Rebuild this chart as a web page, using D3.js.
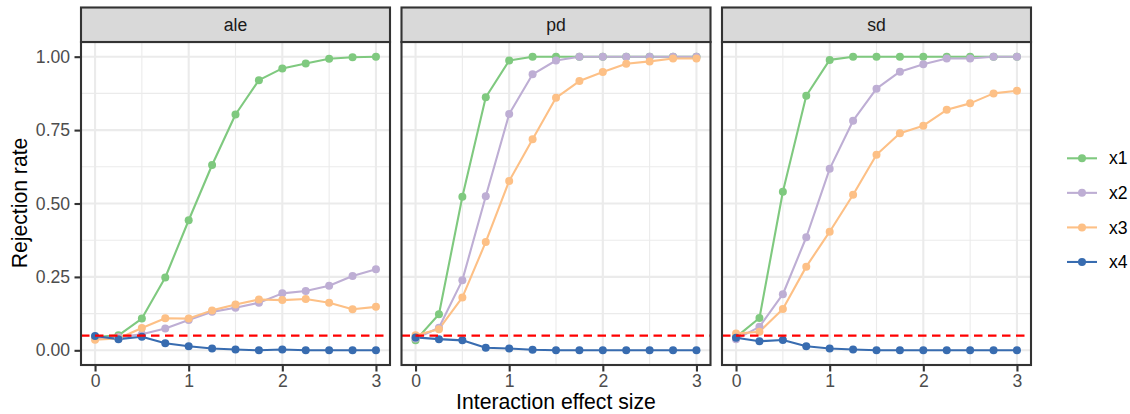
<!DOCTYPE html>
<html>
<head>
<meta charset="utf-8">
<script src="https://cdn.jsdelivr.net/npm/d3@7"></script>
<style>
  html, body { margin: 0; padding: 0; background: #ffffff; }
  svg { display: block; font-family: "Liberation Sans", Arial, sans-serif; }
</style>
</head>
<body>
<svg id="chart" width="1130" height="414"></svg>
<script>
// ---------------- data ----------------
const effectSize = [0, 0.25, 0.5, 0.75, 1, 1.25, 1.5, 1.75, 2, 2.25, 2.5, 2.75, 3];
const facets = ["ale", "pd", "sd"];
const seriesNames = ["x1", "x2", "x3", "x4"];
const seriesColors = ["#7FC97F", "#BEAED4", "#FDC086", "#386CB0"];
const xTicks = [0, 1, 2, 3];
const xTickLabels = ["0", "1", "2", "3"];
const yTicks = [0, 0.25, 0.5, 0.75, 1];
const yTickLabels = ["0.00", "0.25", "0.50", "0.75", "1.00"];
const alphaLevel = 0.05;

const ale_x1 = [0.045, 0.051, 0.108, 0.248, 0.443, 0.631, 0.803, 0.920, 0.960, 0.977, 0.993, 0.998, 1.000];
const ale_x2 = [0.040, 0.045, 0.055, 0.074, 0.103, 0.131, 0.145, 0.162, 0.194, 0.202, 0.220, 0.253, 0.276];
const ale_x3 = [0.036, 0.040, 0.076, 0.109, 0.108, 0.136, 0.156, 0.173, 0.171, 0.175, 0.162, 0.140, 0.148];
const ale_x4 = [0.049, 0.038, 0.046, 0.024, 0.014, 0.006, 0.003, 0.000, 0.003, 0.000, 0.000, 0.000, 0.000];

const pd_x1 = [0.034, 0.123, 0.523, 0.862, 0.987, 1.000, 1.000, 1.000, 1.000, 1.000, 1.000, 1.000, 1.000];
const pd_x2 = [0.040, 0.077, 0.239, 0.525, 0.805, 0.940, 0.987, 1.000, 1.000, 1.000, 1.000, 1.000, 1.000];
const pd_x3 = [0.051, 0.072, 0.180, 0.369, 0.577, 0.719, 0.860, 0.917, 0.948, 0.976, 0.984, 0.994, 0.994];
const pd_x4 = [0.044, 0.038, 0.034, 0.009, 0.006, 0.002, 0.000, 0.000, 0.000, 0.000, 0.000, 0.000, 0.000];

const sd_x1 = [0.045, 0.110, 0.540, 0.867, 0.989, 1.000, 1.000, 1.000, 1.000, 1.000, 1.000, 1.000, 1.000];
const sd_x2 = [0.038, 0.080, 0.191, 0.385, 0.618, 0.782, 0.891, 0.949, 0.974, 0.994, 0.994, 1.000, 1.000];
const sd_x3 = [0.057, 0.063, 0.141, 0.285, 0.404, 0.530, 0.666, 0.739, 0.765, 0.819, 0.841, 0.875, 0.884];
const sd_x4 = [0.043, 0.031, 0.035, 0.014, 0.006, 0.003, 0.000, 0.000, 0.000, 0.000, 0.000, 0.000, 0.000];

const facetSeries = {
  ale: [ale_x1, ale_x2, ale_x3, ale_x4],
  pd:  [pd_x1, pd_x2, pd_x3, pd_x4],
  sd:  [sd_x1, sd_x2, sd_x3, sd_x4]
};

// ---------------- layout ----------------
const svg = d3.select("#chart");
const panelLefts = [81, 401.5, 722];
const panelW = 309;
const stripTop = 7.5, stripBottom = 42, panelBottom = 365;
const tickFont = 17.6, titleFont = 21.2;
const pointR = 4;

const y = d3.scaleLinear().domain([-0.05, 1.05]).range([panelBottom, stripBottom]);
const yMinor = [0.125, 0.375, 0.625, 0.875];
const xMinor = [0.5, 1.5, 2.5];

facets.forEach((f, fi) => {
  const left = panelLefts[fi];
  const x = d3.scaleLinear().domain([-0.15, 3.15]).range([left, left + panelW]);
  const g = svg.append("g");

  g.append("rect").attr("x", left).attr("y", stripBottom)
    .attr("width", panelW).attr("height", panelBottom - stripBottom).attr("fill", "#ffffff");

  // minor grid
  g.selectAll(".ymin").data(yMinor).join("line")
    .attr("x1", left).attr("x2", left + panelW)
    .attr("y1", d => y(d)).attr("y2", d => y(d))
    .attr("stroke", "#ebebeb").attr("stroke-width", 1.1);
  g.selectAll(".xmin").data(xMinor).join("line")
    .attr("y1", stripBottom).attr("y2", panelBottom)
    .attr("x1", d => x(d)).attr("x2", d => x(d))
    .attr("stroke", "#ebebeb").attr("stroke-width", 1.1);
  // major grid
  g.selectAll(".ymaj").data(yTicks).join("line")
    .attr("x1", left).attr("x2", left + panelW)
    .attr("y1", d => y(d)).attr("y2", d => y(d))
    .attr("stroke", "#ebebeb").attr("stroke-width", 2.1);
  g.selectAll(".xmaj").data(xTicks).join("line")
    .attr("y1", stripBottom).attr("y2", panelBottom)
    .attr("x1", d => x(d)).attr("x2", d => x(d))
    .attr("stroke", "#ebebeb").attr("stroke-width", 2.1);

  const line = d3.line().x((d, i) => x(effectSize[i])).y(d => y(d));
  const clipId = "clip" + fi;
  svg.append("clipPath").attr("id", clipId).append("rect")
    .attr("x", left).attr("y", stripBottom).attr("width", panelW).attr("height", panelBottom - stripBottom);
  const dataG = g.append("g").attr("clip-path", `url(#${clipId})`);
  facetSeries[f].forEach((vals, si) => {
    dataG.append("path").datum(vals).attr("d", line)
      .attr("fill", "none").attr("stroke", seriesColors[si])
      .attr("stroke-width", 2.1).attr("stroke-linejoin", "round");
  });
  facetSeries[f].forEach((vals, si) => {
    dataG.selectAll(null).data(vals).join("circle")
      .attr("cx", (d, i) => x(effectSize[i])).attr("cy", d => y(d))
      .attr("r", pointR).attr("fill", seriesColors[si]);
  });
  dataG.append("line").attr("x1", left).attr("x2", left + panelW)
    .attr("y1", y(alphaLevel)).attr("y2", y(alphaLevel))
    .attr("stroke", "#FF0000").attr("stroke-width", 2.1).attr("stroke-dasharray", "8.5,5.5");

  // panel border
  g.append("rect").attr("x", left).attr("y", stripBottom)
    .attr("width", panelW).attr("height", panelBottom - stripBottom)
    .attr("fill", "none").attr("stroke", "#333333").attr("stroke-width", 2.1);

  // strip
  g.append("rect").attr("x", left).attr("y", stripTop)
    .attr("width", panelW).attr("height", stripBottom - stripTop)
    .attr("fill", "#d9d9d9").attr("stroke", "#333333").attr("stroke-width", 2.1);
  g.append("text").attr("x", left + panelW / 2).attr("y", (stripTop + stripBottom) / 2)
    .attr("dy", "0.35em").attr("text-anchor", "middle")
    .attr("font-size", tickFont).attr("fill", "#1a1a1a").text(f);

  const xAxis = d3.axisBottom(x).tickValues(xTicks).tickSize(5.5).tickPadding(3)
    .tickFormat((d, i) => xTickLabels[i]);
  const xg = g.append("g").attr("transform", `translate(0,${panelBottom + 1})`).call(xAxis);
  xg.select(".domain").remove();
  xg.selectAll(".tick line").attr("stroke", "#333333").attr("stroke-width", 2.1);
  xg.selectAll(".tick text").attr("fill", "#4d4d4d").attr("font-size", tickFont)
    .attr("font-family", "Liberation Sans, Arial, sans-serif");

  if (fi === 0) {
    const yAxis = d3.axisLeft(y).tickValues(yTicks).tickSize(5.5).tickPadding(4.4)
      .tickFormat((d, i) => yTickLabels[i]);
    const yg = g.append("g").attr("transform", `translate(${left - 1},0)`).call(yAxis);
    yg.select(".domain").remove();
    yg.selectAll(".tick line").attr("stroke", "#333333").attr("stroke-width", 2.1);
    yg.selectAll(".tick text").attr("fill", "#4d4d4d").attr("font-size", tickFont)
      .attr("font-family", "Liberation Sans, Arial, sans-serif");
  }
});

// axis titles
svg.append("text").attr("x", (panelLefts[0] + panelLefts[2] + panelW) / 2).attr("y", 409.3)
  .attr("text-anchor", "middle").attr("font-size", titleFont).attr("fill", "#000")
  .text("Interaction effect size");
svg.append("text").attr("transform", "translate(26.5,203) rotate(-90)")
  .attr("text-anchor", "middle").attr("font-size", titleFont).attr("fill", "#000")
  .text("Rejection rate");

// legend
const legendTop = 158.3, legendStep = 34.56;
const lg = svg.append("g");
seriesNames.forEach((name, i) => {
  const cy = legendTop + i * legendStep;
  lg.append("line").attr("x1", 1067).attr("x2", 1097).attr("y1", cy).attr("y2", cy)
    .attr("stroke", seriesColors[i]).attr("stroke-width", 2.1);
  lg.append("circle").attr("cx", 1082).attr("cy", cy).attr("r", pointR).attr("fill", seriesColors[i]);
  lg.append("text").attr("x", 1109).attr("y", cy).attr("dy", "0.35em")
    .attr("font-size", tickFont).attr("fill", "#000").text(name);
});
</script>
</body>
</html>
